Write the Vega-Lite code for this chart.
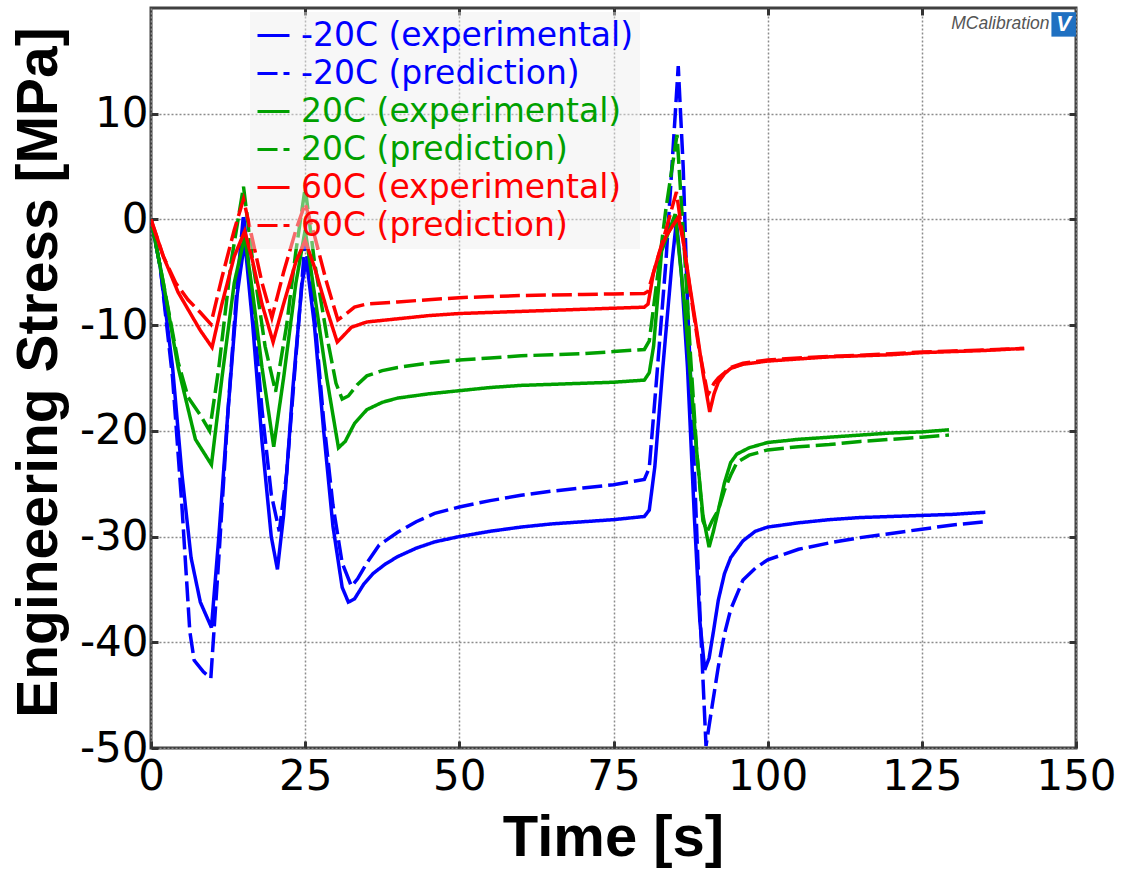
{
"$schema": "https://vega.github.io/schema/vega-lite/v6.json",
"width": 925, "height": 740,
"autosize": "none",
"padding": {"left": 151, "top": 8, "right": 50, "bottom": 121},
"background": "white",
"config": {"view": {"stroke": "#404040", "strokeWidth": 3}},
"datasets": {"curves": [
{"series":"-20C (experimental)","time":0,"stress":0},
{"series":"-20C (experimental)","time":1.5,"stress":-4.5},
{"series":"-20C (experimental)","time":3.5,"stress":-14},
{"series":"-20C (experimental)","time":5,"stress":-24},
{"series":"-20C (experimental)","time":6.5,"stress":-32},
{"series":"-20C (experimental)","time":8,"stress":-36.2},
{"series":"-20C (experimental)","time":9.8,"stress":-38.6},
{"series":"-20C (experimental)","time":11,"stress":-30},
{"series":"-20C (experimental)","time":12.5,"stress":-18},
{"series":"-20C (experimental)","time":14,"stress":-7},
{"series":"-20C (experimental)","time":15.2,"stress":-2},
{"series":"-20C (experimental)","time":16.5,"stress":-10},
{"series":"-20C (experimental)","time":18,"stress":-21},
{"series":"-20C (experimental)","time":19.5,"stress":-30},
{"series":"-20C (experimental)","time":20.5,"stress":-33.1},
{"series":"-20C (experimental)","time":21.5,"stress":-28},
{"series":"-20C (experimental)","time":23,"stress":-16},
{"series":"-20C (experimental)","time":24.5,"stress":-6},
{"series":"-20C (experimental)","time":25.2,"stress":-3.8},
{"series":"-20C (experimental)","time":26.5,"stress":-10},
{"series":"-20C (experimental)","time":28,"stress":-20},
{"series":"-20C (experimental)","time":29.5,"stress":-29},
{"series":"-20C (experimental)","time":31,"stress":-34.8},
{"series":"-20C (experimental)","time":32,"stress":-36.2},
{"series":"-20C (experimental)","time":33,"stress":-35.9},
{"series":"-20C (experimental)","time":34.5,"stress":-34.5},
{"series":"-20C (experimental)","time":36,"stress":-33.5},
{"series":"-20C (experimental)","time":38,"stress":-32.6},
{"series":"-20C (experimental)","time":40,"stress":-31.9},
{"series":"-20C (experimental)","time":43,"stress":-31.1},
{"series":"-20C (experimental)","time":46,"stress":-30.5},
{"series":"-20C (experimental)","time":50,"stress":-30},
{"series":"-20C (experimental)","time":55,"stress":-29.5},
{"series":"-20C (experimental)","time":60,"stress":-29.1},
{"series":"-20C (experimental)","time":65,"stress":-28.8},
{"series":"-20C (experimental)","time":70,"stress":-28.6},
{"series":"-20C (experimental)","time":75,"stress":-28.4},
{"series":"-20C (experimental)","time":80,"stress":-28.1},
{"series":"-20C (experimental)","time":80.8,"stress":-27.5},
{"series":"-20C (experimental)","time":81.7,"stress":-23.4},
{"series":"-20C (experimental)","time":83,"stress":-14},
{"series":"-20C (experimental)","time":84.5,"stress":-4},
{"series":"-20C (experimental)","time":85.2,"stress":-0.2},
{"series":"-20C (experimental)","time":86,"stress":-5},
{"series":"-20C (experimental)","time":87,"stress":-14},
{"series":"-20C (experimental)","time":88.1,"stress":-28},
{"series":"-20C (experimental)","time":89,"stress":-38},
{"series":"-20C (experimental)","time":89.8,"stress":-42.6},
{"series":"-20C (experimental)","time":90.5,"stress":-41.5},
{"series":"-20C (experimental)","time":91.2,"stress":-39},
{"series":"-20C (experimental)","time":92,"stress":-36},
{"series":"-20C (experimental)","time":93,"stress":-33.5},
{"series":"-20C (experimental)","time":94,"stress":-32},
{"series":"-20C (experimental)","time":96,"stress":-30.4},
{"series":"-20C (experimental)","time":98,"stress":-29.5},
{"series":"-20C (experimental)","time":100,"stress":-29.1},
{"series":"-20C (experimental)","time":105,"stress":-28.7},
{"series":"-20C (experimental)","time":110,"stress":-28.4},
{"series":"-20C (experimental)","time":115,"stress":-28.2},
{"series":"-20C (experimental)","time":120,"stress":-28.1},
{"series":"-20C (experimental)","time":125,"stress":-28},
{"series":"-20C (experimental)","time":130,"stress":-27.9},
{"series":"-20C (experimental)","time":135.3,"stress":-27.7},
{"series":"-20C (prediction)","time":0,"stress":0},
{"series":"-20C (prediction)","time":1.5,"stress":-4.5},
{"series":"-20C (prediction)","time":3.5,"stress":-15},
{"series":"-20C (prediction)","time":5,"stress":-27},
{"series":"-20C (prediction)","time":6.3,"stress":-39},
{"series":"-20C (prediction)","time":7,"stress":-41.7},
{"series":"-20C (prediction)","time":8.5,"stress":-42.8},
{"series":"-20C (prediction)","time":9.7,"stress":-43.4},
{"series":"-20C (prediction)","time":11,"stress":-32},
{"series":"-20C (prediction)","time":12.5,"stress":-18},
{"series":"-20C (prediction)","time":14,"stress":-6},
{"series":"-20C (prediction)","time":15,"stress":0.5},
{"series":"-20C (prediction)","time":16.5,"stress":-8},
{"series":"-20C (prediction)","time":18,"stress":-18},
{"series":"-20C (prediction)","time":19.5,"stress":-26},
{"series":"-20C (prediction)","time":20.8,"stress":-29.5},
{"series":"-20C (prediction)","time":22,"stress":-24},
{"series":"-20C (prediction)","time":23.5,"stress":-13},
{"series":"-20C (prediction)","time":25,"stress":-2},
{"series":"-20C (prediction)","time":26.5,"stress":-9},
{"series":"-20C (prediction)","time":28,"stress":-19},
{"series":"-20C (prediction)","time":29.5,"stress":-27},
{"series":"-20C (prediction)","time":31,"stress":-32.5},
{"series":"-20C (prediction)","time":32.5,"stress":-34.7},
{"series":"-20C (prediction)","time":33.5,"stress":-34},
{"series":"-20C (prediction)","time":35,"stress":-32.5},
{"series":"-20C (prediction)","time":37,"stress":-30.8},
{"series":"-20C (prediction)","time":40,"stress":-29.6},
{"series":"-20C (prediction)","time":43,"stress":-28.6},
{"series":"-20C (prediction)","time":46,"stress":-27.8},
{"series":"-20C (prediction)","time":50,"stress":-27.2},
{"series":"-20C (prediction)","time":55,"stress":-26.6},
{"series":"-20C (prediction)","time":60,"stress":-26.1},
{"series":"-20C (prediction)","time":65,"stress":-25.7},
{"series":"-20C (prediction)","time":70,"stress":-25.4},
{"series":"-20C (prediction)","time":75,"stress":-25.1},
{"series":"-20C (prediction)","time":80,"stress":-24.6},
{"series":"-20C (prediction)","time":80.8,"stress":-23.5},
{"series":"-20C (prediction)","time":82,"stress":-15},
{"series":"-20C (prediction)","time":83.5,"stress":-4},
{"series":"-20C (prediction)","time":84.8,"stress":8},
{"series":"-20C (prediction)","time":85.5,"stress":14.5},
{"series":"-20C (prediction)","time":86.3,"stress":5},
{"series":"-20C (prediction)","time":87,"stress":-8},
{"series":"-20C (prediction)","time":88,"stress":-22},
{"series":"-20C (prediction)","time":89,"stress":-37},
{"series":"-20C (prediction)","time":90,"stress":-49.8},
{"series":"-20C (prediction)","time":91,"stress":-46},
{"series":"-20C (prediction)","time":92,"stress":-42.3},
{"series":"-20C (prediction)","time":93,"stress":-39.2},
{"series":"-20C (prediction)","time":94,"stress":-36.9},
{"series":"-20C (prediction)","time":96,"stress":-34.1},
{"series":"-20C (prediction)","time":98,"stress":-33},
{"series":"-20C (prediction)","time":100,"stress":-32.2},
{"series":"-20C (prediction)","time":105,"stress":-31.2},
{"series":"-20C (prediction)","time":110,"stress":-30.6},
{"series":"-20C (prediction)","time":115,"stress":-30.1},
{"series":"-20C (prediction)","time":120,"stress":-29.7},
{"series":"-20C (prediction)","time":125,"stress":-29.3},
{"series":"-20C (prediction)","time":130,"stress":-28.9},
{"series":"-20C (prediction)","time":135.3,"stress":-28.6},
{"series":"20C (experimental)","time":0,"stress":0},
{"series":"20C (experimental)","time":2,"stress":-6},
{"series":"20C (experimental)","time":4.4,"stress":-14},
{"series":"20C (experimental)","time":7.2,"stress":-20.8},
{"series":"20C (experimental)","time":9.8,"stress":-23.2},
{"series":"20C (experimental)","time":11.5,"stress":-15},
{"series":"20C (experimental)","time":13.5,"stress":-6},
{"series":"20C (experimental)","time":15.2,"stress":-1.6},
{"series":"20C (experimental)","time":16.5,"stress":-7},
{"series":"20C (experimental)","time":18,"stress":-14},
{"series":"20C (experimental)","time":19.9,"stress":-21.5},
{"series":"20C (experimental)","time":21.5,"stress":-15},
{"series":"20C (experimental)","time":23.5,"stress":-6},
{"series":"20C (experimental)","time":25,"stress":-1},
{"series":"20C (experimental)","time":26.5,"stress":-7},
{"series":"20C (experimental)","time":28.5,"stress":-15},
{"series":"20C (experimental)","time":30.4,"stress":-21.6},
{"series":"20C (experimental)","time":31.5,"stress":-21},
{"series":"20C (experimental)","time":33,"stress":-19.3},
{"series":"20C (experimental)","time":35,"stress":-18},
{"series":"20C (experimental)","time":37.5,"stress":-17.3},
{"series":"20C (experimental)","time":40,"stress":-16.9},
{"series":"20C (experimental)","time":45,"stress":-16.5},
{"series":"20C (experimental)","time":50,"stress":-16.2},
{"series":"20C (experimental)","time":55,"stress":-15.9},
{"series":"20C (experimental)","time":60,"stress":-15.7},
{"series":"20C (experimental)","time":65,"stress":-15.6},
{"series":"20C (experimental)","time":70,"stress":-15.5},
{"series":"20C (experimental)","time":75,"stress":-15.4},
{"series":"20C (experimental)","time":80,"stress":-15.2},
{"series":"20C (experimental)","time":80.8,"stress":-14.5},
{"series":"20C (experimental)","time":81.5,"stress":-12},
{"series":"20C (experimental)","time":82.8,"stress":-3},
{"series":"20C (experimental)","time":85,"stress":0.5},
{"series":"20C (experimental)","time":86.5,"stress":-8},
{"series":"20C (experimental)","time":87.5,"stress":-15},
{"series":"20C (experimental)","time":88.5,"stress":-22},
{"series":"20C (experimental)","time":89.5,"stress":-28},
{"series":"20C (experimental)","time":90.5,"stress":-31},
{"series":"20C (experimental)","time":91.2,"stress":-29.5},
{"series":"20C (experimental)","time":92,"stress":-27.5},
{"series":"20C (experimental)","time":93,"stress":-24.9},
{"series":"20C (experimental)","time":94,"stress":-23},
{"series":"20C (experimental)","time":95,"stress":-22.2},
{"series":"20C (experimental)","time":97,"stress":-21.6},
{"series":"20C (experimental)","time":100,"stress":-21.1},
{"series":"20C (experimental)","time":105,"stress":-20.8},
{"series":"20C (experimental)","time":110,"stress":-20.6},
{"series":"20C (experimental)","time":115,"stress":-20.4},
{"series":"20C (experimental)","time":120,"stress":-20.2},
{"series":"20C (experimental)","time":125,"stress":-20.1},
{"series":"20C (experimental)","time":129.4,"stress":-19.9},
{"series":"20C (prediction)","time":0,"stress":0},
{"series":"20C (prediction)","time":2,"stress":-6},
{"series":"20C (prediction)","time":4.4,"stress":-13.5},
{"series":"20C (prediction)","time":6,"stress":-16.8},
{"series":"20C (prediction)","time":8,"stress":-18.5},
{"series":"20C (prediction)","time":9.5,"stress":-20},
{"series":"20C (prediction)","time":11,"stress":-14},
{"series":"20C (prediction)","time":13,"stress":-4},
{"series":"20C (prediction)","time":15,"stress":3.1},
{"series":"20C (prediction)","time":16.5,"stress":-4},
{"series":"20C (prediction)","time":18.5,"stress":-12},
{"series":"20C (prediction)","time":20.2,"stress":-16.3},
{"series":"20C (prediction)","time":22,"stress":-10},
{"series":"20C (prediction)","time":23.5,"stress":-3},
{"series":"20C (prediction)","time":25,"stress":3},
{"series":"20C (prediction)","time":26.5,"stress":-4},
{"series":"20C (prediction)","time":28.5,"stress":-11},
{"series":"20C (prediction)","time":30,"stress":-15.5},
{"series":"20C (prediction)","time":31,"stress":-17},
{"series":"20C (prediction)","time":32,"stress":-16.7},
{"series":"20C (prediction)","time":33.5,"stress":-15.6},
{"series":"20C (prediction)","time":35,"stress":-14.8},
{"series":"20C (prediction)","time":37.5,"stress":-14.3},
{"series":"20C (prediction)","time":40,"stress":-14},
{"series":"20C (prediction)","time":45,"stress":-13.6},
{"series":"20C (prediction)","time":50,"stress":-13.3},
{"series":"20C (prediction)","time":55,"stress":-13.1},
{"series":"20C (prediction)","time":60,"stress":-12.9},
{"series":"20C (prediction)","time":65,"stress":-12.8},
{"series":"20C (prediction)","time":70,"stress":-12.7},
{"series":"20C (prediction)","time":75,"stress":-12.5},
{"series":"20C (prediction)","time":80,"stress":-12.3},
{"series":"20C (prediction)","time":80.8,"stress":-11.5},
{"series":"20C (prediction)","time":82,"stress":-6},
{"series":"20C (prediction)","time":83.5,"stress":1},
{"series":"20C (prediction)","time":85.3,"stress":8},
{"series":"20C (prediction)","time":86.5,"stress":-3},
{"series":"20C (prediction)","time":87.5,"stress":-13},
{"series":"20C (prediction)","time":88.5,"stress":-22},
{"series":"20C (prediction)","time":89.5,"stress":-28.5},
{"series":"20C (prediction)","time":90.2,"stress":-29.5},
{"series":"20C (prediction)","time":91,"stress":-28.5},
{"series":"20C (prediction)","time":92,"stress":-27.5},
{"series":"20C (prediction)","time":93,"stress":-25.6},
{"series":"20C (prediction)","time":94,"stress":-24.2},
{"series":"20C (prediction)","time":95,"stress":-23},
{"series":"20C (prediction)","time":97,"stress":-22.3},
{"series":"20C (prediction)","time":100,"stress":-21.8},
{"series":"20C (prediction)","time":105,"stress":-21.5},
{"series":"20C (prediction)","time":110,"stress":-21.3},
{"series":"20C (prediction)","time":115,"stress":-21},
{"series":"20C (prediction)","time":120,"stress":-20.8},
{"series":"20C (prediction)","time":125,"stress":-20.6},
{"series":"20C (prediction)","time":129.4,"stress":-20.4},
{"series":"60C (experimental)","time":0,"stress":0},
{"series":"60C (experimental)","time":2,"stress":-3.5},
{"series":"60C (experimental)","time":4.4,"stress":-6.9},
{"series":"60C (experimental)","time":6,"stress":-8.5},
{"series":"60C (experimental)","time":8,"stress":-10.5},
{"series":"60C (experimental)","time":9.9,"stress":-12.1},
{"series":"60C (experimental)","time":11.5,"stress":-8},
{"series":"60C (experimental)","time":13.5,"stress":-3.5},
{"series":"60C (experimental)","time":15.2,"stress":-1.1},
{"series":"60C (experimental)","time":16.5,"stress":-4},
{"series":"60C (experimental)","time":18,"stress":-8},
{"series":"60C (experimental)","time":19.8,"stress":-11.6},
{"series":"60C (experimental)","time":21.5,"stress":-8},
{"series":"60C (experimental)","time":23.5,"stress":-4},
{"series":"60C (experimental)","time":25,"stress":-2},
{"series":"60C (experimental)","time":26.5,"stress":-4.5},
{"series":"60C (experimental)","time":28.5,"stress":-8.5},
{"series":"60C (experimental)","time":30.2,"stress":-11.6},
{"series":"60C (experimental)","time":31.2,"stress":-11},
{"series":"60C (experimental)","time":32.5,"stress":-10.2},
{"series":"60C (experimental)","time":35,"stress":-9.7},
{"series":"60C (experimental)","time":40,"stress":-9.4},
{"series":"60C (experimental)","time":45,"stress":-9.1},
{"series":"60C (experimental)","time":50,"stress":-8.9},
{"series":"60C (experimental)","time":55,"stress":-8.8},
{"series":"60C (experimental)","time":60,"stress":-8.7},
{"series":"60C (experimental)","time":65,"stress":-8.6},
{"series":"60C (experimental)","time":70,"stress":-8.5},
{"series":"60C (experimental)","time":75,"stress":-8.4},
{"series":"60C (experimental)","time":80,"stress":-8.3},
{"series":"60C (experimental)","time":80.6,"stress":-8},
{"series":"60C (experimental)","time":81.5,"stress":-5},
{"series":"60C (experimental)","time":82.5,"stress":-3},
{"series":"60C (experimental)","time":83.5,"stress":-1.6},
{"series":"60C (experimental)","time":85.5,"stress":0.2},
{"series":"60C (experimental)","time":86.3,"stress":-2},
{"series":"60C (experimental)","time":87.3,"stress":-6},
{"series":"60C (experimental)","time":88.5,"stress":-10.5},
{"series":"60C (experimental)","time":89.5,"stress":-14.5},
{"series":"60C (experimental)","time":90.6,"stress":-18.2},
{"series":"60C (experimental)","time":91.3,"stress":-16.5},
{"series":"60C (experimental)","time":92,"stress":-15.4},
{"series":"60C (experimental)","time":93,"stress":-14.6},
{"series":"60C (experimental)","time":94,"stress":-14.1},
{"series":"60C (experimental)","time":96,"stress":-13.7},
{"series":"60C (experimental)","time":100,"stress":-13.4},
{"series":"60C (experimental)","time":105,"stress":-13.2},
{"series":"60C (experimental)","time":110,"stress":-13},
{"series":"60C (experimental)","time":115,"stress":-12.9},
{"series":"60C (experimental)","time":120,"stress":-12.8},
{"series":"60C (experimental)","time":125,"stress":-12.6},
{"series":"60C (experimental)","time":130,"stress":-12.5},
{"series":"60C (experimental)","time":135,"stress":-12.4},
{"series":"60C (experimental)","time":141.6,"stress":-12.2},
{"series":"60C (prediction)","time":0,"stress":0},
{"series":"60C (prediction)","time":2,"stress":-3.5},
{"series":"60C (prediction)","time":4,"stress":-6},
{"series":"60C (prediction)","time":6,"stress":-7.6},
{"series":"60C (prediction)","time":8,"stress":-8.8},
{"series":"60C (prediction)","time":9.7,"stress":-9.9},
{"series":"60C (prediction)","time":11.5,"stress":-5.5},
{"series":"60C (prediction)","time":13.5,"stress":-1},
{"series":"60C (prediction)","time":15,"stress":1.9},
{"series":"60C (prediction)","time":16.5,"stress":-2},
{"series":"60C (prediction)","time":18,"stress":-6},
{"series":"60C (prediction)","time":19.6,"stress":-9.3},
{"series":"60C (prediction)","time":21.5,"stress":-5},
{"series":"60C (prediction)","time":23.5,"stress":-1},
{"series":"60C (prediction)","time":25,"stress":1.5},
{"series":"60C (prediction)","time":26.5,"stress":-1.5},
{"series":"60C (prediction)","time":28.5,"stress":-6},
{"series":"60C (prediction)","time":30.3,"stress":-9.5},
{"series":"60C (prediction)","time":31.5,"stress":-9},
{"series":"60C (prediction)","time":33,"stress":-8.3},
{"series":"60C (prediction)","time":35,"stress":-8},
{"series":"60C (prediction)","time":40,"stress":-7.8},
{"series":"60C (prediction)","time":45,"stress":-7.6},
{"series":"60C (prediction)","time":50,"stress":-7.4},
{"series":"60C (prediction)","time":55,"stress":-7.3},
{"series":"60C (prediction)","time":60,"stress":-7.2},
{"series":"60C (prediction)","time":65,"stress":-7.15},
{"series":"60C (prediction)","time":70,"stress":-7.1},
{"series":"60C (prediction)","time":75,"stress":-7.05},
{"series":"60C (prediction)","time":80,"stress":-7},
{"series":"60C (prediction)","time":80.6,"stress":-6.8},
{"series":"60C (prediction)","time":81.5,"stress":-5},
{"series":"60C (prediction)","time":82.5,"stress":-3},
{"series":"60C (prediction)","time":83.5,"stress":-1},
{"series":"60C (prediction)","time":85.2,"stress":2.6},
{"series":"60C (prediction)","time":86.3,"stress":-2},
{"series":"60C (prediction)","time":87.5,"stress":-7},
{"series":"60C (prediction)","time":88.8,"stress":-12},
{"series":"60C (prediction)","time":90.3,"stress":-16.6},
{"series":"60C (prediction)","time":91.3,"stress":-15.5},
{"series":"60C (prediction)","time":92,"stress":-15},
{"series":"60C (prediction)","time":93,"stress":-14.5},
{"series":"60C (prediction)","time":94,"stress":-14},
{"series":"60C (prediction)","time":96,"stress":-13.6},
{"series":"60C (prediction)","time":100,"stress":-13.3},
{"series":"60C (prediction)","time":105,"stress":-13.1},
{"series":"60C (prediction)","time":110,"stress":-12.95},
{"series":"60C (prediction)","time":115,"stress":-12.85},
{"series":"60C (prediction)","time":120,"stress":-12.7},
{"series":"60C (prediction)","time":125,"stress":-12.55},
{"series":"60C (prediction)","time":130,"stress":-12.45},
{"series":"60C (prediction)","time":135,"stress":-12.35},
{"series":"60C (prediction)","time":141.6,"stress":-12.2}
]},
"layer": [
{
"data": {"name": "curves"},
"mark": {"type": "line", "strokeWidth": 3.5, "clip": true},
"encoding": {
"x": {"field": "time", "type": "quantitative",
"scale": {"domain": [0, 150], "nice": false, "zero": false},
"axis": {"orient": "bottom", "values": [0, 25, 50, 75, 100, 125, 150], "title": "Time [s]",
"grid": true, "gridColor": "#8c8c8c", "gridDash": [2, 2], "gridWidth": 1.5,
"domain": false, "tickSize": -7, "tickWidth": 3, "tickColor": "#333333",
"labelFont": "DejaVu Sans", "labelFontSize": 42, "labelColor": "#000000", "labelPadding": 15,
"labelFlush": false, "labelOverlap": false, "labelBound": false,
"labelExpr": "toString(datum.value)",
"titleFont": "Liberation Sans", "titleFontWeight": "bold", "titleFontSize": 58, "titleColor": "#000000",
"titleX": 462, "titleY": 107, "titleBaseline": "alphabetic", "titleAlign": "center"}},
"y": {"field": "stress", "type": "quantitative",
"scale": {"domain": [-50, 20], "nice": false, "zero": false},
"axis": {"orient": "left", "values": [-50, -40, -30, -20, -10, 0, 10], "title": "Engineering Stress [MPa]",
"grid": true, "gridColor": "#8c8c8c", "gridDash": [2, 2], "gridWidth": 1.5,
"domain": false, "tickSize": -7, "tickWidth": 3, "tickColor": "#333333",
"labelFont": "DejaVu Sans", "labelFontSize": 42, "labelColor": "#000000", "labelPadding": 10,
"labelAlign": "right", "labelBaseline": "middle",
"labelFlush": false, "labelOverlap": false, "labelBound": false,
"labelExpr": "toString(datum.value)",
"titleFont": "Liberation Sans", "titleFontWeight": "bold", "titleFontSize": 57, "titleColor": "#000000",
"titleX": -95, "titleY": 364, "titleBaseline": "alphabetic", "titleAlign": "center", "titleAngle": 270}},
"color": {"field": "series", "type": "nominal",
"scale": {"domain": ["-20C (experimental)", "-20C (prediction)", "20C (experimental)", "20C (prediction)", "60C (experimental)", "60C (prediction)"],
"range": ["#0000ff", "#0000ff", "#00a000", "#00a000", "#ff0000", "#ff0000"]},
"legend": {"title": null, "orient": "none", "legendX": 99, "legendY": 4, "fillColor": "rgba(238,238,238,0.45)", "padding": 6,
"symbolType": "stroke", "symbolSize": 1024, "symbolStrokeWidth": 3,
"labelFont": "DejaVu Sans", "labelFontSize": 33, "labelOffset": 10, "rowPadding": 3, "labelLimit": 600,
"encode": {"labels": {"update": {"fill": {"scale": "color", "field": "value"}}}}}},
"strokeDash": {"field": "series", "type": "nominal",
"scale": {"domain": ["-20C (experimental)", "-20C (prediction)", "20C (experimental)", "20C (prediction)", "60C (experimental)", "60C (prediction)"],
"range": [[1, 0], [20, 6], [1, 0], [20, 6], [1, 0], [20, 6]]},
"legend": {"title": null, "orient": "none", "legendX": 99, "legendY": 4, "fillColor": "rgba(238,238,238,0.45)", "padding": 6,
"symbolType": "stroke", "symbolSize": 1024, "symbolStrokeWidth": 3,
"labelFont": "DejaVu Sans", "labelFontSize": 33, "labelOffset": 10, "rowPadding": 3, "labelLimit": 600,
"encode": {"labels": {"update": {"fill": {"scale": "color", "field": "value"}}}}}}
}
},
{
"data": {"name": "curves"},
"mark": {"type": "line", "opacity": 0},
"encoding": {
"x": {"field": "time", "type": "quantitative",
"axis": {"orient": "top", "values": [25, 50, 75, 100, 125], "labels": false, "grid": false, "domain": false, "title": null,
"tickSize": -7, "tickWidth": 3, "tickColor": "#333333"}},
"y": {"field": "stress", "type": "quantitative",
"axis": {"orient": "right", "values": [-40, -30, -20, -10, 0, 10], "labels": false, "grid": false, "domain": false, "title": null,
"tickSize": -7, "tickWidth": 3, "tickColor": "#333333"}}
}
},
{
"data": {"values": [{"time": 145.7, "stress": 18.45, "label": "MCalibration"}]},
"mark": {"type": "text", "align": "right", "baseline": "middle", "font": "Liberation Sans", "fontStyle": "italic", "fontSize": 17.5, "color": "#555555"},
"encoding": {
"x": {"field": "time", "type": "quantitative", "axis": null},
"y": {"field": "stress", "type": "quantitative", "axis": null},
"text": {"field": "label"}
}
},
{
"data": {"values": [{"time": 148.0, "stress": 18.45, "label": "V"}]},
"layer": [
{"mark": {"type": "point", "shape": "square", "filled": true, "size": 600, "color": "#1f70c1", "opacity": 1},
"encoding": {"x": {"field": "time", "type": "quantitative", "axis": null}, "y": {"field": "stress", "type": "quantitative", "axis": null}}},
{"mark": {"type": "text", "align": "center", "baseline": "middle", "font": "Liberation Sans", "fontStyle": "italic", "fontWeight": "bold", "fontSize": 22, "color": "#ffffff"},
"encoding": {"x": {"field": "time", "type": "quantitative", "axis": null}, "y": {"field": "stress", "type": "quantitative", "axis": null}, "text": {"field": "label"}}}
]
}
],
"resolve": {"axis": {"x": "independent", "y": "independent"}}
}
